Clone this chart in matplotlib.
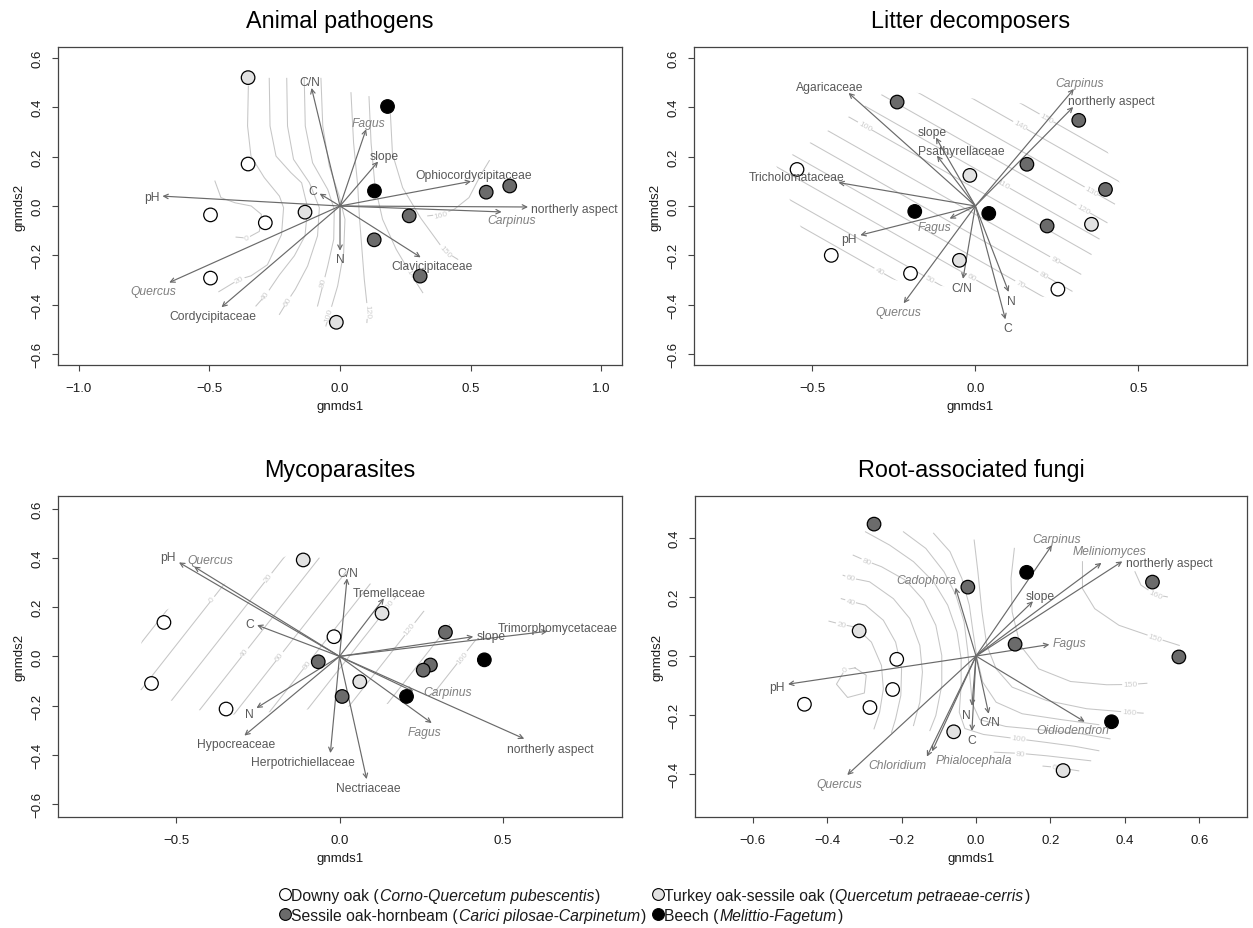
import numpy as np
import matplotlib
matplotlib.use('Agg')
import matplotlib.pyplot as plt
from matplotlib.patches import Polygon
from matplotlib.ticker import FuncFormatter, MultipleLocator

plt.rcParams['font.family'] = ['Liberation Sans', 'DejaVu Sans']

W, H = 1253, 929

GENERA = {'Fagus', 'Carpinus', 'Quercus', 'Meliniomyces', 'Cadophora',
          'Oidiodendron', 'Chloridium', 'Phialocephala'}

# site groups: D downy oak, T turkey oak-sessile oak, S sessile oak-hornbeam, B beech
group_fill = {'D': 'white', 'T': '#e2e2e2', 'S': '#6b6b6b', 'B': 'black'}

# ---------------- Animal pathogens ----------------
ap_x = [-0.352, -0.352, -0.496, -0.286, -0.496, -0.134, -0.014, 0.182, 0.132, 0.265, 0.131, 0.307, 0.560, 0.650]
ap_y = [0.520, 0.170, -0.036, -0.068, -0.292, -0.025, -0.471, 0.403, 0.061, -0.040, -0.137, -0.284, 0.056, 0.081]
ap_grp = ['T', 'D', 'D', 'D', 'D', 'T', 'T', 'B', 'B', 'S', 'S', 'S', 'S', 'S']
ap_vec = ['C/N', 'Fagus', 'slope', 'C', 'pH', 'Ophiocordycipitaceae', 'northerly aspect',
          'Carpinus', 'N', 'Clavicipitaceae', 'Quercus', 'Cordycipitaceae']
ap_vx = [-0.109, 0.100, 0.146, -0.078, -0.680, 0.502, 0.720, 0.619, 0.000, 0.309, -0.654, -0.454]
ap_vy = [0.478, 0.311, 0.180, 0.050, 0.040, 0.100, -0.004, -0.024, -0.181, -0.208, -0.310, -0.410]
# (level label, index of labelled vertex, x, y)
ap_surf = [
    ('0', 6, [-0.479, -0.456, -0.402, -0.340, -0.301, -0.309, -0.356, -0.398],
     [0.101, 0.034, 0.013, 0.000, -0.034, -0.103, -0.130, -0.126]),
    ('20', 9, [-0.351, -0.354, -0.341, -0.290, -0.232, -0.216, -0.224, -0.278, -0.341, -0.386, -0.464],
     [0.486, 0.324, 0.202, 0.115, 0.040, -0.007, -0.116, -0.238, -0.283, -0.297, -0.347]),
    ('40', 9, [-0.271, -0.268, -0.245, -0.188, -0.147, -0.124, -0.134, -0.175, -0.232, -0.284, -0.322],
     [0.517, 0.324, 0.202, 0.135, 0.094, -0.007, -0.121, -0.202, -0.279, -0.360, -0.405]),
    ('60', 8, [-0.204, -0.201, -0.178, -0.117, -0.079, -0.086, -0.124, -0.171, -0.201, -0.232],
     [0.517, 0.324, 0.189, 0.094, -0.007, -0.121, -0.243, -0.337, -0.385, -0.439]),
    ('80', 7, [-0.137, -0.133, -0.105, -0.047, -0.022, -0.024, -0.047, -0.063, -0.086],
     [0.517, 0.324, 0.175, 0.067, -0.013, -0.135, -0.243, -0.310, -0.405]),
    ('100', 7, [-0.073, -0.066, -0.041, -0.003, 0.019, 0.014, -0.009, -0.041, -0.054],
     [0.517, 0.324, 0.162, 0.040, -0.054, -0.189, -0.324, -0.439, -0.486]),
    ('120', 6, [0.042, 0.052, 0.068, 0.074, 0.083, 0.093, 0.106, 0.103],
     [0.459, 0.256, 0.081, -0.040, -0.162, -0.297, -0.425, -0.472]),
    ('140', 5, [0.111, 0.119, 0.134, 0.163, 0.215, 0.275, 0.317],
     [0.443, 0.256, 0.081, -0.054, -0.175, -0.282, -0.351]),
    ('150', 4, [0.193, 0.201, 0.240, 0.309, 0.402, 0.451],
     [0.374, 0.211, 0.074, -0.049, -0.184, -0.216]),
    ('160', 4, [0.572, 0.540, 0.494, 0.438, 0.387, 0.336],
     [0.184, 0.128, 0.034, -0.013, -0.034, -0.040]),
]

# ---------------- Litter decomposers ----------------
ld_x = [-0.240, -0.547, -0.017, 0.158, 0.317, 0.399, -0.186, 0.041, 0.220, 0.356, -0.442, -0.199, -0.049, 0.253]
ld_y = [0.421, 0.148, 0.124, 0.169, 0.347, 0.067, -0.022, -0.030, -0.081, -0.074, -0.200, -0.273, -0.220, -0.337]
ld_grp = ['S', 'D', 'T', 'S', 'S', 'S', 'B', 'B', 'S', 'T', 'D', 'D', 'T', 'D']
ld_vec = ['Agaricaceae', 'slope', 'Psathyrellaceae', 'Tricholomataceae', 'Carpinus', 'northerly aspect',
          'Fagus', 'pH', 'Quercus', 'C/N', 'N', 'C']
ld_vx = [-0.389, -0.121, -0.118, -0.420, 0.302, 0.300, -0.079, -0.353, -0.220, -0.038, 0.102, 0.092]
ld_vy = [0.458, 0.277, 0.204, 0.095, 0.474, 0.401, -0.051, -0.118, -0.394, -0.295, -0.348, -0.459]
ld_levels = [40, 50, 60, 70, 80, 90, 100, 110, 120, 130, 140, 150]
ld_y0 = [-0.484, -0.401, -0.298, -0.212, -0.123, -0.034, 0.070, 0.151, 0.235, 0.328, 0.429, 0.520]
ld_slope = -0.749
ld_lab_x = [-0.295, -0.140, -0.012, 0.137, 0.208, 0.244, -0.339, 0.085, 0.331, 0.356, 0.137, 0.218]

# ---------------- Mycoparasites ----------------
mp_x = [-0.111, -0.537, -0.575, -0.347, -0.017, 0.130, -0.065, 0.324, 0.278, 0.256, 0.062, 0.008, 0.205, 0.443]
mp_y = [0.392, 0.138, -0.110, -0.214, 0.080, 0.175, -0.022, 0.098, -0.035, -0.056, -0.103, -0.163, -0.163, -0.014]
mp_grp = ['T', 'D', 'D', 'D', 'D', 'T', 'S', 'S', 'S', 'S', 'T', 'S', 'B', 'B']
mp_vec = ['pH', 'Quercus', 'C/N', 'Tremellaceae', 'C', 'slope', 'Trimorphomycetaceae', 'northerly aspect',
          'Carpinus', 'Fagus', 'N', 'Hypocreaceae', 'Herpotrichiellaceae', 'Nectriaceae']
mp_vx = [-0.491, -0.445, 0.023, 0.136, -0.252, 0.409, 0.636, 0.565, 0.226, 0.282, -0.254, -0.291, -0.028, 0.083]
mp_vy = [0.382, 0.365, 0.317, 0.236, 0.127, 0.080, 0.102, -0.335, -0.143, -0.271, -0.210, -0.322, -0.393, -0.499]
mp_levels = [-20, 0, 20, 40, 60, 80, 100, 120, 140, 160]
mp_y0 = [1.080, 0.890, 0.689, 0.505, 0.310, 0.136, -0.050, -0.252, -0.440, -0.637]
mp_slope = 1.69
mp_lab_x = [None, -0.389, -0.218, -0.290, -0.183, -0.099, 0.151, 0.215, None, 0.375]

# ---------------- Root-associated fungi ----------------
ra_x = [-0.274, 0.136, -0.022, 0.474, -0.314, -0.213, 0.105, 0.545, -0.224, -0.461, -0.285, -0.060, 0.364, 0.234]
ra_y = [0.446, 0.283, 0.233, 0.250, 0.085, -0.011, 0.040, -0.003, -0.113, -0.163, -0.174, -0.256, -0.222, -0.387]
ra_grp = ['S', 'B', 'S', 'S', 'T', 'D', 'S', 'S', 'D', 'D', 'D', 'T', 'B', 'T']
ra_vec = ['Carpinus', 'Meliniomyces', 'northerly aspect', 'Cadophora', 'slope', 'Fagus', 'pH', 'N', 'C/N', 'C',
          'Oidiodendron', 'Phialocephala', 'Chloridium', 'Quercus']
ra_vx = [0.204, 0.337, 0.393, -0.055, 0.153, 0.197, -0.505, -0.011, 0.034, -0.011, 0.292, -0.118, -0.132, -0.346]
ra_vy = [0.375, 0.315, 0.320, 0.231, 0.185, 0.039, -0.095, -0.168, -0.195, -0.253, -0.222, -0.322, -0.340, -0.402]
ra_surf = [
    ('0', 1, [-0.325, -0.352, -0.375, -0.345, -0.300, -0.295, -0.325],
     [-0.040, -0.046, -0.095, -0.140, -0.125, -0.065, -0.040]),
    ('20', 1, [-0.395, -0.362, -0.324, -0.281, -0.254, -0.249, -0.259, -0.274],
     [0.118, 0.107, 0.098, 0.047, -0.032, -0.111, -0.190, -0.246]),
    ('40', 1, [-0.362, -0.337, -0.297, -0.249, -0.216, -0.200, -0.202, -0.216, -0.227],
     [0.194, 0.185, 0.172, 0.121, 0.047, -0.043, -0.133, -0.212, -0.258]),
    ('60', 1, [-0.357, -0.337, -0.286, -0.222, -0.178, -0.151, -0.144, -0.151, -0.168],
     [0.273, 0.264, 0.251, 0.194, 0.127, 0.036, -0.054, -0.156, -0.235]),
    ('80', 1, [-0.330, -0.294, -0.254, -0.189, -0.141, -0.108, -0.092, -0.092, -0.108, -0.124],
     [0.341, 0.321, 0.302, 0.256, 0.189, 0.104, 0.002, -0.099, -0.201, -0.252]),
    ('100', 11, [-0.297, -0.232, -0.168, -0.114, -0.076, -0.051, -0.040, -0.040, -0.045, -0.030, 0.020, 0.114,
                 0.189, 0.265, 0.330],
     [0.420, 0.375, 0.319, 0.251, 0.172, 0.081, -0.009, -0.099, -0.190, -0.245, -0.265, -0.280,
      -0.292, -0.305, -0.320]),
    (None, 0, [-0.195, -0.135, -0.086, -0.054, -0.032, -0.022, -0.016, -0.010, 0.010, 0.080, 0.180, 0.280, 0.360],
     [0.420, 0.364, 0.285, 0.206, 0.115, 0.014, -0.077, -0.160, -0.215, -0.238, -0.250, -0.262, -0.280]),
    (None, 0, [-0.114, -0.070, -0.038, -0.018, -0.008, 0.003, 0.018, 0.054, 0.124, 0.230, 0.330],
     [0.415, 0.353, 0.262, 0.172, 0.081, -0.009, -0.088, -0.156, -0.195, -0.215, -0.232]),
    ('160', 8, [-0.005, 0.005, 0.016, 0.029, 0.054, 0.097, 0.189, 0.297, 0.411, 0.449],
     [0.392, 0.285, 0.149, 0.036, -0.043, -0.105, -0.150, -0.178, -0.190, -0.193]),
    ('150', 7, [0.103, 0.094, 0.097, 0.119, 0.168, 0.254, 0.351, 0.414, 0.459],
     [0.364, 0.262, 0.149, 0.036, -0.043, -0.086, -0.097, -0.096, -0.092]),
    ('80', 1, [0.049, 0.119, 0.189, 0.308], [-0.325, -0.329, -0.337, -0.354]),
    ('60', 1, [0.180, 0.216, 0.276], [-0.372, -0.376, -0.388]),
    ('150', 4, [0.286, 0.286, 0.319, 0.384, 0.481, 0.546], [0.319, 0.228, 0.160, 0.104, 0.062, 0.036]),
    ('160', 2, [0.427, 0.443, 0.481, 0.514], [0.285, 0.240, 0.208, 0.200]),
]

# legend
leg_grp = ['D', 'T', 'S', 'B']
leg_common = ['Downy oak', 'Turkey oak-sessile oak', 'Sessile oak-hornbeam', 'Beech']
leg_assoc = ['Corno-Quercetum pubescentis', 'Quercetum petraeae-cerris',
             'Carici pilosae-Carpinetum', 'Melittio-Fagetum']

# label nudges in pixels (dx, dy up), where the labels were moved by hand in the original
ap_nudge = {'Carpinus': (-17, -6), 'Ophiocordycipitaceae': (-36, 1)}
ld_nudge = {'northerly aspect': (31, 0), 'Psathyrellaceae': (30, -1), 'Agaricaceae': (-11, 0)}
mp_nudge = {'Quercus': (28, 1), 'Trimorphomycetaceae': (-50, -2), 'Carpinus': (19, 8),
            'Fagus': (-17, 0), 'Herpotrichiellaceae': (-27, 0), 'northerly aspect': (10, -1)}
ra_nudge = {'northerly aspect': (36, -7), 'Cadophora': (-27, 2), 'Oidiodendron': (-24, 0),
            'Phialocephala': (45, 0), 'Chloridium': (-26, 0), 'Meliniomyces': (-2, 6), 'N': (-5, 0)}

ARROW_C = '#6a6a6a'
TEXT_C = '#595959'
GENUS_C = '#7f7f7f'
CONT_C = '#c6c6c6'
CLAB_C = '#cfcfcf'
LAB_FS = 8.7

fig = plt.figure(figsize=(W / 100, H / 100), dpi=100, facecolor='white')
renderer = fig.canvas.get_renderer()


def tick_fmt(v, pos):
    if abs(v) < 1e-9:
        v = 0.0
    return ('%.1f' % v).replace('-', '\u2212')


def make_panel(l, t, r, b, title, xlim, ylim, xstep, ystep):
    ax = fig.add_axes([l / W, 1 - b / H, (r - l) / W, (b - t) / H])
    ax.set_xlim(xlim)
    ax.set_ylim(ylim)
    ax.xaxis.set_major_locator(MultipleLocator(xstep))
    ax.yaxis.set_major_locator(MultipleLocator(ystep))
    ax.xaxis.set_major_formatter(FuncFormatter(tick_fmt))
    ax.yaxis.set_major_formatter(FuncFormatter(tick_fmt))
    ax.tick_params(direction='out', length=4.5, width=0.8, color='#444444',
                   labelcolor='#1a1a1a', labelsize=9.5)
    ax.tick_params(axis='x', pad=7.5)
    ax.tick_params(axis='y', pad=5.7, labelrotation=90)
    for lab in ax.get_yticklabels():
        lab.set_va('center')
    for sp in ax.spines.values():
        sp.set_color('#444444')
        sp.set_linewidth(0.9)
    ax.set_title(title, fontsize=16.8, pad=14.5)
    ax.set_xlabel('gnmds1', fontsize=9.5, labelpad=4.5, color='#1a1a1a')
    ax.set_ylabel('gnmds2', fontsize=9.5, labelpad=4.2, color='#1a1a1a')
    return ax


def convex_hull(xs, ys, grow=1.12):
    pts = sorted(set(zip(xs, ys)))

    def cross(o, a, b):
        return (a[0] - o[0]) * (b[1] - o[1]) - (a[1] - o[1]) * (b[0] - o[0])
    lower, upper = [], []
    for p in pts:
        while len(lower) >= 2 and cross(lower[-2], lower[-1], p) <= 0:
            lower.pop()
        lower.append(p)
    for p in reversed(pts):
        while len(upper) >= 2 and cross(upper[-2], upper[-1], p) <= 0:
            upper.pop()
        upper.append(p)
    hull = np.array(lower[:-1] + upper[:-1])
    c = hull.mean(axis=0)
    return c + grow * (hull - c)


def contour_label(ax, text, x, y, x0, y0, x1, y1):
    p0 = ax.transData.transform((x0, y0))
    p1 = ax.transData.transform((x1, y1))
    ang = np.degrees(np.arctan2(p1[1] - p0[1], p1[0] - p0[0]))
    if ang > 90:
        ang -= 180
    if ang < -90:
        ang += 180
    ax.text(x, y, text, fontsize=6, color=CLAB_C, rotation=ang, rotation_mode='anchor',
            ha='center', va='center', zorder=1.5,
            bbox=dict(facecolor='white', edgecolor='none', pad=0.6))


def draw_curves(ax, surf):
    for lab, li, xs, ys in surf:
        ax.plot(xs, ys, color=CONT_C, lw=0.75, zorder=1)
        if lab is not None:
            i0 = max(li - 1, 0)
            i1 = min(li + 1, len(xs) - 1)
            contour_label(ax, lab, xs[li], ys[li], xs[i0], ys[i0], xs[i1], ys[i1])


def draw_planes(ax, levels, y0s, slope, lab_x, site_x, site_y):
    clip = Polygon(convex_hull(site_x, site_y), closed=True, transform=ax.transData)
    ends = np.array([-1.5, 1.5])
    for lev, c, lx in zip(levels, y0s, lab_x):
        line, = ax.plot(ends, c + slope * ends, color=CONT_C, lw=0.75, zorder=1)
        line.set_clip_path(clip)
        if lx is not None:
            contour_label(ax, str(lev), lx, c + slope * lx, 0, c, 1, c + slope)


def draw_vectors(ax, names, vx, vy, nudges):
    o = ax.transData.transform((0, 0))
    sx = ax.transData.transform((1, 0))[0] - o[0]
    sy = ax.transData.transform((0, 1))[1] - o[1]
    fs_px = LAB_FS * 100 / 72
    for name, x, y in zip(names, vx, vy):
        ax.annotate('', xy=(x, y), xytext=(0, 0), zorder=3,
                    arrowprops=dict(arrowstyle='->', color=ARROW_C, lw=0.85,
                                    shrinkA=0, shrinkB=0, mutation_scale=8))
        genus = name in GENERA
        t = ax.text(x, y, name, fontsize=LAB_FS, style='italic' if genus else 'normal',
                    color=GENUS_C if genus else TEXT_C, ha='center', va='center_baseline', zorder=5)
        # place the label beyond the arrow tip (as vegan's ordiArrowTextXY does)
        w = t.get_window_extent(renderer).width / sx
        h = 0.8 * fs_px / sy
        off = [np.sign(x) * (w / 2 + h / 4), 0.75 * h * np.sign(y)]
        if x == 0:
            move = 0.0
        elif y == 0:
            move = np.inf
        else:
            move = off[1] / (y / x)
        if np.isfinite(move) and abs(move) <= abs(off[0]):
            off[0] = move
        else:
            off[1] = (y / x) * off[0]
        dx, dy = nudges.get(name, (0, 0))
        t.set_position((x + off[0] + dx / sx, y + off[1] + dy / sy))


def draw_sites(ax, xs, ys, grp):
    ax.scatter(xs, ys, s=95, c=[group_fill[g] for g in grp], edgecolors='black',
               linewidths=0.9, zorder=4)


# Animal pathogens
ax1 = make_panel(58, 48, 622, 366, 'Animal pathogens', (-1.08, 1.08), (-0.644, 0.644), 0.5, 0.2)
draw_curves(ax1, ap_surf)
draw_vectors(ax1, ap_vec, ap_vx, ap_vy, ap_nudge)
draw_sites(ax1, ap_x, ap_y, ap_grp)

# Litter decomposers
ax2 = make_panel(694, 48, 1247, 366, 'Litter decomposers', (-0.863, 0.833), (-0.644, 0.644), 0.5, 0.2)
draw_planes(ax2, ld_levels, ld_y0, ld_slope, ld_lab_x, ld_x, ld_y)
draw_vectors(ax2, ld_vec, ld_vx, ld_vy, ld_nudge)
draw_sites(ax2, ld_x, ld_y, ld_grp)

# Mycoparasites
ax3 = make_panel(58, 497, 622, 818, 'Mycoparasites', (-0.861, 0.864), (-0.653, 0.652), 0.5, 0.2)
draw_planes(ax3, mp_levels, mp_y0, mp_slope, mp_lab_x, mp_x, mp_y)
draw_vectors(ax3, mp_vec, mp_vx, mp_vy, mp_nudge)
draw_sites(ax3, mp_x, mp_y, mp_grp)

# Root-associated fungi
ax4 = make_panel(695, 497, 1247, 818, 'Root-associated fungi', (-0.755, 0.728), (-0.544, 0.541), 0.2, 0.2)
draw_curves(ax4, ra_surf)
draw_vectors(ax4, ra_vec, ra_vx, ra_vy, ra_nudge)
draw_sites(ax4, ra_x, ra_y, ra_grp)

# legend, drawn in figure pixels
lax = fig.add_axes([0, 0, 1, 1])
lax.set_xlim(0, W)
lax.set_ylim(H, 0)
lax.axis('off')
leg_col_x = [285, 658, 285, 658]
leg_row_y = [895, 895, 915, 915]
LEG_FS = 11.3
for g, com, assoc, mx, my in zip(leg_grp, leg_common, leg_assoc, leg_col_x, leg_row_y):
    lax.scatter([mx], [my], s=72, c=group_fill[g], edgecolors='black', linewidths=0.8)
    x = mx + 6
    for part, style in [(com + ' (', 'normal'), (assoc, 'italic'), (')', 'normal')]:
        t = lax.text(x, my, part, fontsize=LEG_FS, style=style, color='#1a1a1a',
                     ha='left', va='center_baseline')
        x += t.get_window_extent(renderer).width + 1

fig.savefig('out.png', dpi=100, facecolor='white')
